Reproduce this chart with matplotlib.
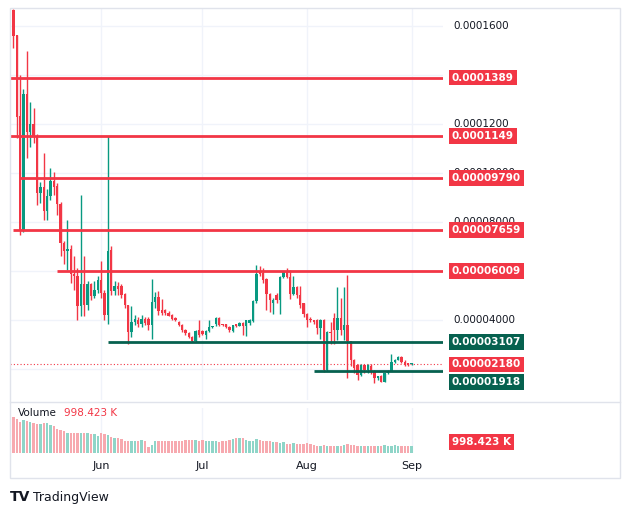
import matplotlib.pyplot as plt
import matplotlib.dates as mdates
from matplotlib.patches import Rectangle
import matplotlib.transforms as mtransforms
import numpy as np
import pandas as pd

# daily candles, prices in units of 1e-5
opens = [16.65, 15.63, 12.33, 7.67, 13.22, 11.67, 12.0, 11.5, 9.18, 9.43,
         8.45, 9.06, 9.67, 9.47, 8.73, 7.14, 6.82, 6.9, 5.88, 5.8,
         4.57, 5.47, 4.6, 5.47, 4.98, 5.2, 5.63, 5.1, 4.2, 6.86,
         5.18, 5.39, 5.39, 5.06, 4.6, 3.5, 3.92, 4.0, 3.84, 4.04,
         4.04, 3.8, 4.73,
         4.95, 4.4, 4.4, 4.3, 4.2, 4.07, 3.93, 3.8, 3.6, 3.48,
         3.32, 3.13, 3.58, 3.55, 3.4, 3.56, 3.7, 3.82, 4.07, 3.82,
         3.82, 3.73, 3.55, 3.82, 3.77, 3.88, 3.77, 3.88, 3.97, 4.79,
         6.0, 5.93, 5.65,
         5.07, 4.67, 5.0, 4.8, 5.75, 5.99, 5.75, 5.07, 5.35, 5.01,
         4.67, 4.26, 4.05, 3.99, 3.99, 3.65, 3.99, 1.95, 3.51,
         4.07, 3.59, 4.07, 3.59, 3.8, 3.12, 2.37, 2.16, 1.75, 2.16,
         1.96, 2.1, 1.89, 1.62, 1.69, 1.48, 1.82, 1.92, 2.3, 2.37,
         2.5, 2.3, 2.18, 2.18]
highs = [16.7, 15.63, 14.0, 13.43, 14.98, 12.9, 12.65, 11.6, 9.63, 10.8,
         9.35, 10.2, 10.04, 9.6, 8.8, 7.2, 8.06, 7.06, 6.6, 6.1,
         9.1, 6.6, 5.6, 5.5, 5.6, 5.8, 6.4, 5.2, 11.5, 7.0,
         5.6, 5.55, 5.45, 5.1, 4.6, 4.57, 4.2, 4.1, 4.2, 4.1,
         4.1, 5.67, 5.14,
         5.18, 4.86, 4.45, 4.35, 4.25, 4.1, 3.95, 3.83, 3.62, 3.5,
         3.35, 3.58, 4.0, 3.6, 3.6, 4.0, 3.75, 4.1, 4.1, 3.85,
         3.85, 3.75, 3.8, 3.85, 3.9, 3.92, 4.0, 4.02, 4.8, 6.24,
         6.2, 6.1, 5.7,
         5.1, 4.9, 5.1, 5.8, 5.99, 6.1, 6.05, 5.8, 5.4, 5.4,
         4.7, 4.3, 4.1, 4.0, 4.05, 4.05, 4.05, 3.55, 3.9,
         4.27, 5.36, 4.88, 5.36, 5.84, 3.15, 2.4, 2.2, 2.2, 2.2,
         2.2, 2.2, 1.95, 1.7, 1.75, 1.85, 1.95, 2.6, 2.4, 2.52,
         2.52, 2.35, 2.22, 2.22]
lows = [15.1, 11.43, 7.47, 7.6, 10.6, 11.06, 11.2, 8.7, 8.78, 8.08,
        8.08, 8.9, 9.1, 8.3, 6.6, 6.3, 6.04, 5.5, 5.2, 4.0,
        4.16, 4.16, 4.4, 4.8, 4.9, 5.1, 4.9, 4.0, 3.84, 5.0,
        5.0, 5.0, 4.9, 4.5, 3.0, 3.3, 3.8, 3.7, 3.7, 3.8,
        3.6, 3.2, 4.5,
        4.2, 4.2, 4.2, 4.15, 4.0, 3.95, 3.75, 3.5, 3.4, 3.25,
        3.1, 3.1, 3.32, 3.4, 3.2, 3.5, 3.65, 3.75, 3.75, 3.75,
        3.65, 3.5, 3.5, 3.7, 3.75, 3.38, 3.35, 3.8, 3.9, 4.7,
        5.8, 5.5, 4.4,
        4.33, 4.26, 4.7, 4.26, 5.7, 5.7, 4.87, 5.0, 4.9, 4.5,
        4.12, 3.72, 3.9, 3.85, 3.44, 3.24, 1.88, 1.9, 3.0,
        3.0, 3.18, 3.4, 3.18, 1.62, 2.1, 1.85, 1.55, 1.7, 1.85,
        1.85, 1.8, 1.42, 1.55, 1.45, 1.45, 1.78, 1.9, 2.25, 2.35,
        2.25, 2.12, 2.12, 2.15]
closes = [15.59, 12.29, 7.67, 13.22, 11.67, 12.0, 11.5, 9.18, 9.43, 8.45,
          9.06, 9.67, 9.43, 8.73, 7.14, 6.82, 6.9, 5.88, 5.8, 4.57,
          5.47, 4.6, 5.47, 4.98, 5.2, 5.63, 5.1, 4.2, 6.82, 5.18,
          5.39, 5.27, 5.02, 4.6, 3.5, 3.92, 4.04, 3.84, 4.04, 3.88,
          3.8, 4.73, 4.94,
          4.37, 4.3, 4.27, 4.17, 4.04, 4.0, 3.78, 3.6, 3.45, 3.3,
          3.13, 3.56, 3.4, 3.44, 3.56, 3.7, 3.73, 4.09, 3.8, 3.78,
          3.71, 3.58, 3.78, 3.77, 3.88, 3.75, 4.0, 4.0, 4.79, 5.88,
          5.88, 5.63, 5.04,
          4.8, 4.83, 4.8, 5.75, 5.99, 5.75, 5.07, 5.35, 5.01, 4.6,
          4.26, 3.99, 3.99, 3.92, 3.65, 3.99, 1.95, 3.51, 3.46,
          3.59, 4.07, 3.59, 3.8, 3.12, 2.37, 2.03, 1.75, 2.16, 1.96,
          2.16, 1.89, 1.62, 1.69, 1.48, 1.82, 1.92, 2.3, 2.37, 2.5,
          2.3, 2.16, 2.16, 2.18]
volumes = [5000, 4700, 4300, 4600, 4400, 4300, 4100, 4000, 4000, 4200,
           4200, 3900, 3700, 3300, 3200, 3000, 2800, 2700, 2700, 2700,
           2700, 2800, 2700, 2600, 2600, 2400, 2700, 2600, 2500, 2200,
           2100, 2000, 1900, 1700, 1700, 1700, 1700, 1700, 1800, 1700,
           800, 1100, 1700, 1600, 1700, 1700, 1700, 1700, 1700, 1600,
           1700, 1800, 1800, 1800, 1800, 1700, 1800, 1700, 1700, 1600,
           1600, 1500, 1600, 1700, 1800, 1900, 2100, 2100, 2100, 1800,
           1700, 1700, 1900, 1800, 1700, 1600, 1600, 1500, 1500, 1400,
           1500, 1300, 1300, 1400, 1300, 1200, 1300, 1400, 1200, 1100,
           1000, 1000, 1100, 1000, 1000, 1000, 1000, 1000, 1100, 1200,
           1100, 1100, 1000, 1000, 1000, 1000, 950, 1000, 1000, 1000,
           1050, 1000, 1000, 1050, 1000, 1000, 1000, 998.423, 998.423]

# horizontal levels
level_prices = [13.89, 11.49, 9.79, 7.659, 6.009, 3.107, 1.918]
level_labels = ['0.0001389', '0.0001149', '0.00009790', '0.00007659',
                '0.00006009', '0.00003107', '0.00001918']
level_starts = ['2024-05-05', '2024-05-05', '2024-05-08', '2024-05-06',
                '2024-05-19', '2024-06-03', '2024-08-03']
level_kind = ['res', 'res', 'res', 'res', 'res', 'sup', 'sup']
last_price = 2.18
axis_ticks = [16, 12, 10, 8, 4]
axis_tick_labels = ['0.0001600', '0.0001200', '0.00010000', '0.00008000', '0.00004000']
months = ['2024-06-01', '2024-07-01', '2024-08-01', '2024-09-01']
month_names = ['Jun', 'Jul', 'Aug', 'Sep']

RED = '#F23645'
GREEN = '#089981'
DARK = '#06614F'
GRID = '#F0F3FA'

n = len(closes)
dates = pd.date_range(end='2024-09-01', periods=n, freq='D')
x = mdates.date2num(dates)
scale = 1e-5
o = np.array(opens[:n]) * scale
h = np.array(highs[:n]) * scale
l = np.array(lows[:n]) * scale
c = np.array(closes[:n]) * scale
up = c >= o
colors = np.where(up, GREEN, RED)

W, H = 630, 515
fig = plt.figure(figsize=(6.3, 5.15), dpi=100)
ax = fig.add_axes([10 / W, 1 - 400 / H, 433 / W, 392 / H])
vax = fig.add_axes([10 / W, 1 - 453 / H, 433 / W, 45 / H])

xmin, xmax = x[0] - 1, x[-1] + 9.3
for a in (ax, vax):
    a.set_xlim(xmin, xmax)
    for s in a.spines.values():
        s.set_visible(False)
    a.tick_params(length=0)
    for m in months:
        a.axvline(mdates.datestr2num(m), color=GRID, lw=1, zorder=0)

ax.set_ylim(0.0000073, 0.0001673)
for p in np.arange(2, 18, 2):
    ax.axhline(p * scale, color=GRID, lw=1, zorder=0)
ax.set_xticks([])
ax.set_yticks([])

# candles
ax.vlines(x, l, h, colors=colors, lw=1, zorder=3)
ax.bar(x, np.maximum(np.abs(c - o), 0.06 * scale), bottom=np.minimum(o, c),
       width=0.7, color=colors, zorder=3)

# levels
for p, s, k in zip(level_prices, level_starts, level_kind):
    ax.hlines(p * scale, mdates.datestr2num(s), xmax,
              colors=RED if k == 'res' else DARK, lw=2, zorder=4)
ax.axhline(last_price * scale, color=RED, lw=0.8, ls=(0, (1, 2)), zorder=2)

# price scale labels
tr = mtransforms.blended_transform_factory(fig.transFigure, ax.transData)
for p, lab in zip(axis_ticks, axis_tick_labels):
    fig.text(453 / W, p * scale, lab, transform=tr, va='center', fontsize=7.5,
             color='#131722', zorder=1)
box_items = list(zip(level_prices, level_labels, level_kind)) + [(last_price, '0.00002180', 'res')]
for p, lab, k in box_items:
    t = tr
    if lab == '0.00001918':
        # pushed below the last-price box, as TradingView does
        t = tr + mtransforms.ScaledTranslation(0, -11 / 100, fig.dpi_scale_trans)
    fig.text(452 / W, p * scale, lab, transform=t, va='center', fontsize=7.5,
             color='white', weight='bold', zorder=5,
             bbox=dict(boxstyle='square,pad=0.28', fc=RED if k == 'res' else DARK, ec='none'))

# volume
v = np.array(volumes[:n])
vax.bar(x, v, width=0.7, color=np.where(up, '#8fd5c8', '#f7a9af'))
vax.set_ylim(0, 6200)
vax.set_yticks([])
vax.set_xticks([mdates.datestr2num(m) for m in months])
vax.set_xticklabels(month_names, fontsize=8, color='#131722')
vax.tick_params(axis='x', pad=6)
fig.text(18 / W, 1 - 413 / H, 'Volume', fontsize=7.5, color='#131722', va='center')
fig.text(64 / W, 1 - 413 / H, '998.423 K', fontsize=7.5, color=RED, va='center')
fig.text(452 / W, 1 - 442 / H, '998.423 K', fontsize=7.5, color='white', weight='bold',
         va='center', bbox=dict(boxstyle='square,pad=0.28', fc=RED, ec='none'))

# frame and pane separator
fig.patches.append(Rectangle((10 / W, 1 - 478 / H), 610 / W, 470 / H, transform=fig.transFigure,
                             fill=False, ec='#E0E3EB', lw=1))
fig.lines.append(plt.Line2D([10 / W, 620 / W], [1 - 402 / H] * 2, transform=fig.transFigure,
                            color='#E0E3EB', lw=1))

fig.text(10 / W, 1 - 497 / H, 'TV', fontsize=10, weight='heavy', color='#131722', va='center')
fig.text(33 / W, 1 - 497 / H, 'TradingView', fontsize=9, color='#131722', va='center')

fig.savefig('out.png', dpi=100)
